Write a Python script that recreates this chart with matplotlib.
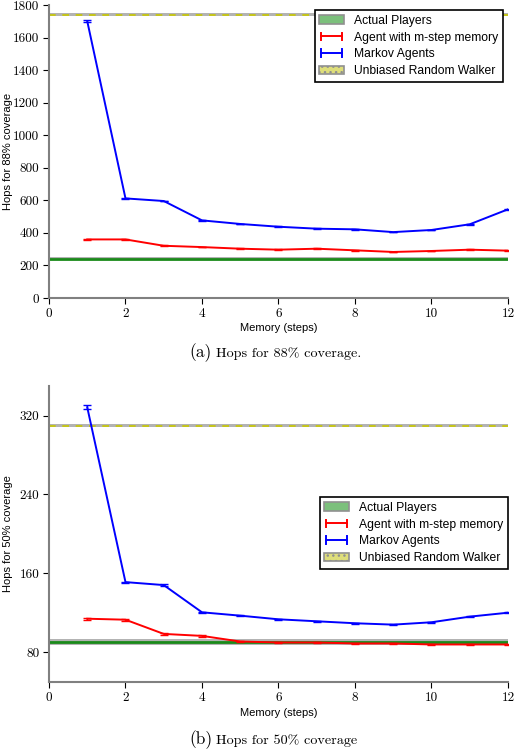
import matplotlib
matplotlib.use("Agg")
import matplotlib.pyplot as plt
from matplotlib.patches import Patch
from matplotlib.lines import Line2D
from matplotlib.legend_handler import HandlerBase
import numpy as np

memory = [1, 2, 3, 4, 5, 6, 7, 8, 9, 10, 11, 12]

# (a) 88% coverage
markov_88 = [1701, 612, 596, 477, 455, 438, 426, 422, 405, 418, 453, 545]
markov_88_err = [8, 3, 3, 2, 2, 2, 2, 2, 2, 2, 2, 2]
memory_88 = [360, 360, 321, 313, 303, 297, 303, 293, 283, 289, 297, 291]
memory_88_err = [3, 3, 2, 2, 2, 2, 2, 2, 2, 2, 2, 2]
players_88 = 240
players_88_band = 9
random_88 = 1740
random_88_band = 9

# (b) 50% coverage
markov_50 = [328.4, 151.2, 148.2, 120.6, 117.2, 113.5, 111.5, 109.5, 108.1, 110.5, 116.2, 120.2]
markov_50_err = [2, 0.6, 0.6, 0.5, 0.4, 0.4, 0.4, 0.4, 0.4, 0.4, 0.4, 0.4]
memory_50 = [114.1, 113.1, 98.7, 96.7, 91.0, 90.0, 90.0, 89.0, 89.0, 88.0, 88.0, 88.0]
memory_50_err = [1, 1, 0.8, 0.8, 0.4, 0.4, 0.4, 0.4, 0.4, 0.4, 0.4, 0.4]
players_50 = 90.6
players_50_band = 2.7
random_50 = 309.8
random_50_band = 1.4

legend_labels = ["Actual Players", "Agent with m-step memory", "Markov Agents",
                 "Unbiased Random Walker"]


class HBarHandler(HandlerBase):
    def __init__(self, color):
        super().__init__()
        self.color = color

    def create_artists(self, legend, orig_handle, xdescent, ydescent, width,
                       height, fontsize, trans):
        yc = height / 2 - ydescent
        x0 = -xdescent + 1
        x1 = -xdescent + width - 1
        h = height * 0.45
        arts = [Line2D([x0, x1], [yc, yc], color=self.color, lw=1.4),
                Line2D([x0, x0], [yc - h, yc + h], color=self.color, lw=1.4),
                Line2D([x1, x1], [yc - h, yc + h], color=self.color, lw=1.4)]
        for a in arts:
            a.set_transform(trans)
        return arts


fig = plt.figure(figsize=(5.2, 7.49), dpi=100)
ax1 = fig.add_axes([0.0942, 0.6021, 0.8827, 0.3912])
ax2 = fig.add_axes([0.0942, 0.0895, 0.8827, 0.3952])


def draw(ax, markov, markov_err, mem, mem_err, players, pband, rnd, rband,
         ylim, yticks, ylabel, leg_anchor, xlab_y):
    ax.axhspan(players - pband, players + pband, facecolor="#a0a0a0", alpha=0.8,
               edgecolor="none", zorder=1)
    ax.axhline(players, color="#1a8a1a", lw=2.0, zorder=2)
    ax.axhspan(rnd - rband, rnd + rband, facecolor="#a0a0a0", alpha=0.8,
               edgecolor="none", zorder=1)
    ax.axhline(rnd, color="#c8c800", lw=1.2, ls=(0, (4, 4)), zorder=2)
    ax.errorbar(memory, mem, yerr=mem_err, color="red", lw=1.4,
                capsize=3, elinewidth=1, zorder=3)
    ax.errorbar(memory, markov, yerr=markov_err, color="blue", lw=1.4,
                capsize=3, elinewidth=1, zorder=3)
    ax.set_xlim(0, 12)
    ax.set_ylim(*ylim)
    ax.set_yticks(yticks)
    ax.set_xticks([0, 2, 4, 6, 8, 10, 12])
    for s in ["top", "right"]:
        ax.spines[s].set_visible(False)
    for s in ["left", "bottom"]:
        ax.spines[s].set_color("#808080")
        ax.spines[s].set_linewidth(1.5)
    ax.tick_params(direction="out", length=4, width=0.8, color="black",
                   top=False, right=False, labelsize=9.5, pad=3)
    for lab in ax.get_xticklabels() + ax.get_yticklabels():
        lab.set_fontfamily("cmr10")
    ax.set_xlabel("Memory (steps)", fontsize=8, family="Liberation Sans")
    ax.set_ylabel(ylabel, fontsize=8, family="Liberation Sans")
    ax.yaxis.set_label_coords(-0.078, 0.5)
    ax.xaxis.set_label_coords(0.5, xlab_y)
    h_red = object()
    h_blue = object()
    handles = [Patch(facecolor="#7cc07c", edgecolor="#909090", lw=1.2),
               h_red, h_blue,
               Patch(facecolor="#dede7a", edgecolor="#909090", lw=1.2, hatch="...")]
    leg = ax.legend(handles, legend_labels, loc="upper right",
                    bbox_to_anchor=leg_anchor, borderaxespad=0,
                    prop={"family": "Liberation Sans", "size": 8.7},
                    frameon=True, fancybox=False, edgecolor="black",
                    framealpha=1.0,
                    handlelength=2.0, handletextpad=0.85, borderpad=0.4,
                    labelspacing=0.4,
                    handler_map={h_red: HBarHandler("red"),
                                 h_blue: HBarHandler("blue")})
    leg.get_frame().set_linewidth(1.2)


draw(ax1, markov_88, markov_88_err, memory_88, memory_88_err, players_88,
     players_88_band, random_88, random_88_band, (0, 1800),
     list(range(0, 1801, 200)), "Hops for 88% coverage", (0.989, 0.983), -0.085)
draw(ax2, markov_50, markov_50_err, memory_50, memory_50_err, players_50,
     players_50_band, random_50, random_50_band, (50, 350),
     [80, 160, 240, 320], "Hops for 50% coverage", (1.0, 0.625), -0.088)

fig.text(0.408, 1 - 353 / 749, "(a)", fontsize=12.5, family="cmr10",
         ha="right", va="center")
fig.text(0.416, 1 - 354 / 749, "Hops for 88% coverage.", fontsize=10.2,
         family="cmr10", ha="left", va="center")
fig.text(0.408, 1 - 740 / 749, "(b)", fontsize=12.5, family="cmr10",
         ha="right", va="center")
fig.text(0.416, 1 - 741 / 749, "Hops for 50% coverage", fontsize=10.2,
         family="cmr10", ha="left", va="center")

fig.savefig("out.png", dpi=100)
